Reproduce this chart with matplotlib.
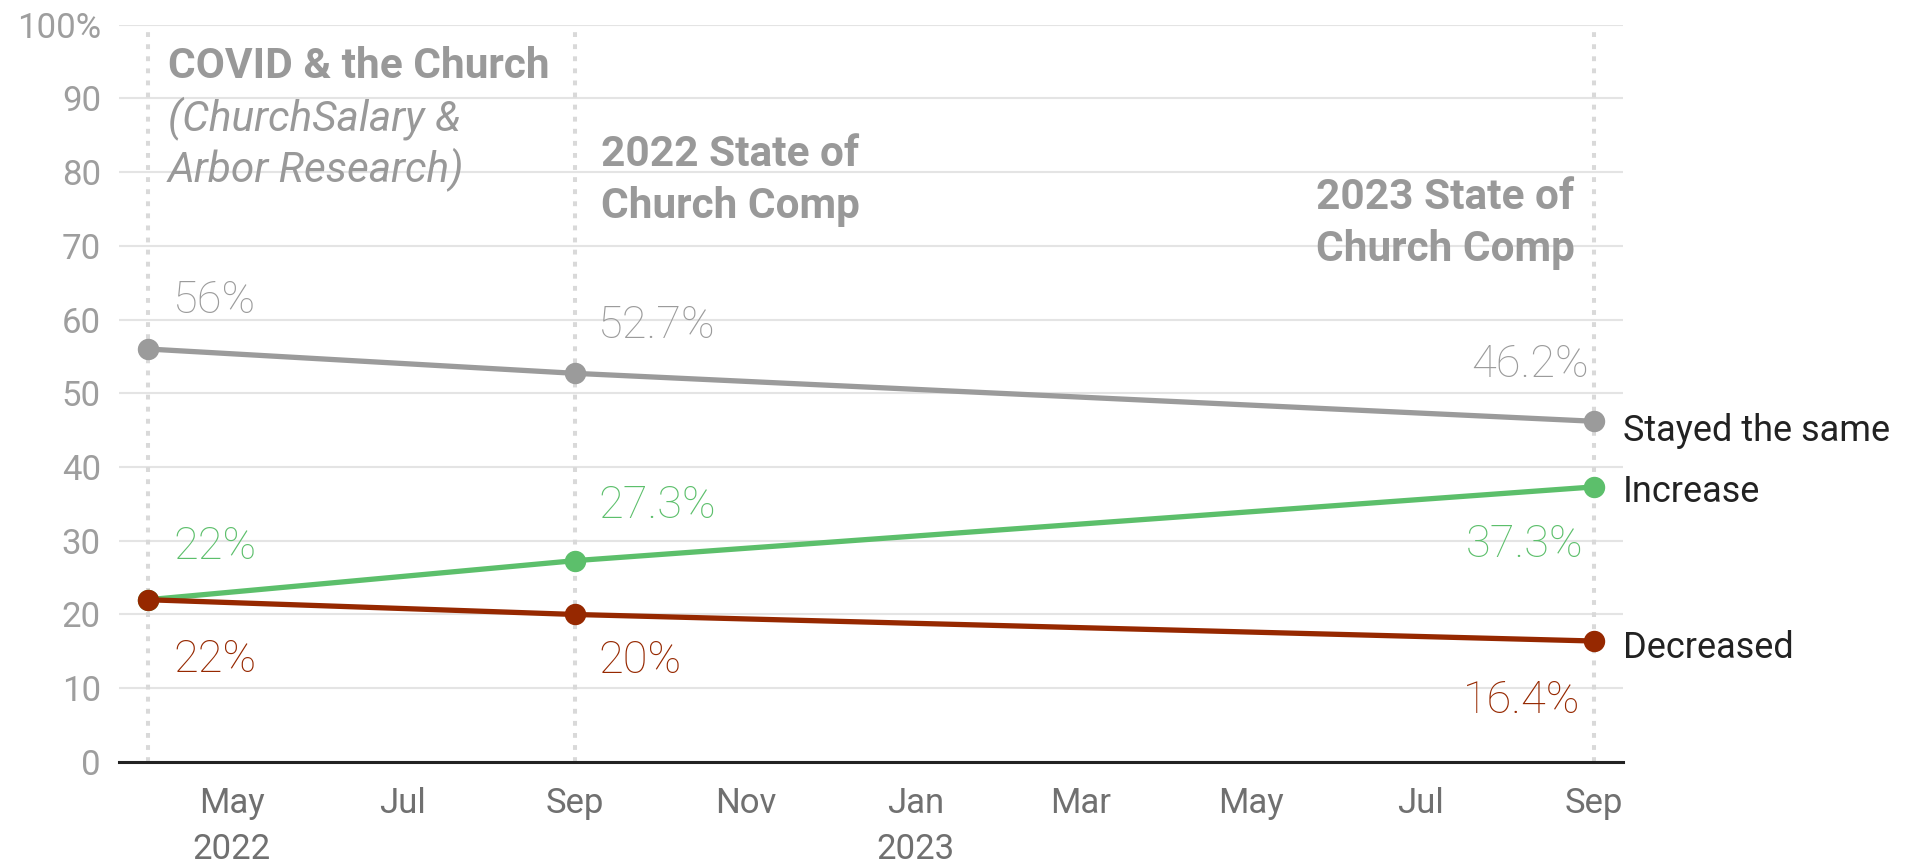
import datetime as dt
import matplotlib
matplotlib.use('Agg')
import matplotlib.pyplot as plt
import matplotlib.dates as mdates

plt.rcParams['font.family'] = ['Roboto', 'DejaVu Sans']

# survey dates and results (%)
dates = ['2022-04-01', '2022-09-01', '2023-09-01']
stayed = [56, 52.7, 46.2]
increase = [22, 27.3, 37.3]
decreased = [22, 20, 16.4]
series_names = ['Stayed the same', 'Increase', 'Decreased']

study_titles = ['COVID & the Church', '2022 State of\nChurch Comp', '2023 State of\nChurch Comp']
study_note = '(ChurchSalary &\nArbor Research)'

tick_dates = ['2022-05-01', '2022-07-01', '2022-09-01', '2022-11-01', '2023-01-01',
              '2023-03-01', '2023-05-01', '2023-07-01', '2023-09-01']
tick_labels = ['May\n2022', 'Jul', 'Sep', 'Nov', 'Jan\n2023', 'Mar', 'May', 'Jul', 'Sep']
y_ticks = [0, 10, 20, 30, 40, 50, 60, 70, 80, 90, 100]
y_labels = ['0', '10', '20', '30', '40', '50', '60', '70', '80', '90', '100%']

GRAY = '#9b9b9b'
GREEN = '#5cbf6b'
RED = '#962800'
colors = [GRAY, GREEN, RED]

def pt(px):
    # pixels -> points at dpi 100
    return px * 0.72

x = [dt.datetime.fromisoformat(d) for d in dates]
xt = [dt.datetime.fromisoformat(d) for d in tick_dates]

fig = plt.figure(figsize=(19.19, 8.64), dpi=100)
ax = fig.add_axes([0.0620, 0.1181, 0.7837, 0.8535])

ax.set_ylim(0, 100)
pad = dt.timedelta(days=10.4)
ax.set_xlim(x[0] - pad, x[-1] + pad)

ax.set_yticks(y_ticks)
ax.set_yticklabels(y_labels)
ax.yaxis.grid(True, color='#e4e4e4', lw=1.5, zorder=0)
ax.set_axisbelow(True)
ax.set_xticks(xt)
ax.set_xticklabels(tick_labels)
for s in ['top', 'right', 'left']:
    ax.spines[s].set_visible(False)
ax.spines['bottom'].set_color('#222222')
ax.spines['bottom'].set_linewidth(2.2)
ax.spines['bottom'].set_zorder(5)
ax.tick_params(axis='both', length=0)
ax.tick_params(axis='y', labelsize=25, labelcolor='#9e9e9e', pad=13)
ax.tick_params(axis='x', labelsize=25, labelcolor='#707070', pad=18)
for t in ax.get_xticklabels():
    t.set_linespacing(1.52)

for d in x:
    ax.axvline(d, color='#d9d9d9', lw=2.9, ls=(0, (1.2, 1.8)), zorder=1)

# study annotations (va='baseline' -> last line's baseline)
title_kw = dict(textcoords='offset points', fontsize=30.5, color='#999999', va='baseline')
ax.annotate(study_titles[0], xy=(x[0], 92.75), xytext=(pt(20), 0), fontweight='bold',
            ha='left', **title_kw)
ax.annotate(study_note, xy=(x[0], 78.6), xytext=(pt(20), 0), fontstyle='italic',
            ha='left', linespacing=1.22, **title_kw)
ax.annotate(study_titles[1], xy=(x[1], 73.7), xytext=(pt(26), 0), fontweight='bold',
            ha='left', linespacing=1.35, **title_kw)
ax.annotate(study_titles[2], xy=(x[2], 67.9), xytext=(pt(-19), 0), fontweight='bold',
            ha='right', multialignment='left', linespacing=1.35, **title_kw)

series = [stayed, increase, decreased]
# value label offsets in pixels (dx, dy of baseline)
label_offsets = [
    [(25, 36), (23, 35), (-5, 44)],
    [(25, 41), (23, 43), (-10, -70)],
    [(25, -72), (23, -59), (-14, -72)],
]
name_offsets = [-19.5, -15, -16.5]

for vals, name, c, offs, noff in zip(series, series_names, colors, label_offsets, name_offsets):
    ax.plot(x, vals, color=c, lw=3.8, marker='o', markersize=14.4, zorder=4,
            solid_capstyle='round', clip_on=False)
    for xi, v, (dx, dy) in zip(x, vals, offs):
        ax.annotate(f'{v:g}%', xy=(xi, v), xytext=(pt(dx), pt(dy)), textcoords='offset points',
                    fontsize=32.5, fontweight='light', color=c, va='baseline',
                    ha='left' if dx > 0 else 'right')
    ax.annotate(name, xy=(x[-1], vals[-1]), xytext=(pt(29), pt(noff)), textcoords='offset points',
                fontsize=26, color='#222222', va='baseline', ha='left', annotation_clip=False)

fig.savefig('out.png', dpi=100)
